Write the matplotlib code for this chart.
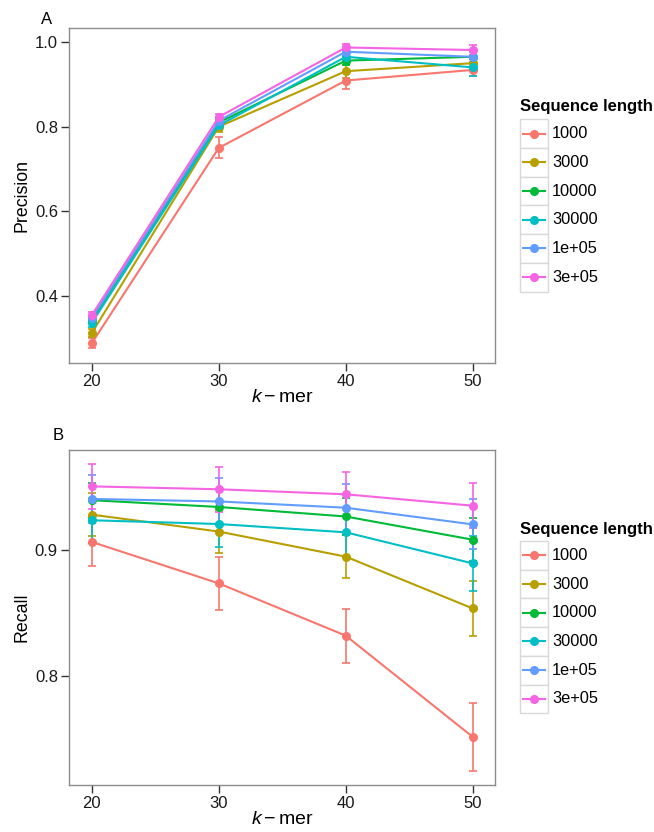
import matplotlib
matplotlib.use("Agg")
import matplotlib.pyplot as plt
from matplotlib.lines import Line2D
from matplotlib.patches import Rectangle

plt.rcParams['font.family'] = ['Liberation Sans', 'DejaVu Sans']
plt.rcParams['mathtext.fontset'] = 'custom'
plt.rcParams['mathtext.rm'] = 'Liberation Sans'
plt.rcParams['mathtext.it'] = 'Liberation Sans:italic'

kmer = [20, 30, 40, 50]
lengths = ["1000", "3000", "10000", "30000", "1e+05", "3e+05"]
colors = ["#F8766D", "#B79F00", "#00BA38", "#00BFC4", "#619CFF", "#F564E3"]

precision = {
    "1000":  [0.289, 0.750, 0.909, 0.934],
    "3000":  [0.313, 0.800, 0.931, 0.950],
    "10000": [0.344, 0.810, 0.956, 0.965],
    "30000": [0.337, 0.803, 0.965, 0.940],
    "1e+05": [0.348, 0.814, 0.977, 0.965],
    "3e+05": [0.355, 0.823, 0.987, 0.981],
}
precision_err = {
    "1000":  [0.012, 0.025, 0.020, 0.015],
    "3000":  [0.010, 0.012, 0.015, 0.015],
    "10000": [0.008, 0.010, 0.010, 0.015],
    "30000": [0.010, 0.010, 0.012, 0.020],
    "1e+05": [0.008, 0.010, 0.010, 0.012],
    "3e+05": [0.008, 0.008, 0.008, 0.012],
}
recall = {
    "1000":  [0.9067, 0.8737, 0.832, 0.7513],
    "3000":  [0.9285, 0.915, 0.895, 0.8537],
    "10000": [0.940, 0.9346, 0.927, 0.9085],
    "30000": [0.924, 0.921, 0.9144, 0.8896],
    "1e+05": [0.941, 0.939, 0.934, 0.9207],
    "3e+05": [0.951, 0.9487, 0.9447, 0.9356],
}
recall_err = {
    "1000":  [0.019, 0.021, 0.0215, 0.027],
    "3000":  [0.017, 0.017, 0.017, 0.022],
    "10000": [0.014, 0.014, 0.015, 0.017],
    "30000": [0.018, 0.018, 0.019, 0.022],
    "1e+05": [0.019, 0.019, 0.019, 0.020],
    "3e+05": [0.018, 0.018, 0.018, 0.018],
}

W, H = 654, 832
fig = plt.figure(figsize=(W / 100, H / 100), dpi=100)

def px_axes(left, top, right, bottom):
    return fig.add_axes([left / W, 1 - bottom / H, (right - left) / W, (bottom - top) / H])

ax1 = px_axes(69, 28, 495, 363)
ax2 = px_axes(69, 450, 495, 785)

def draw(ax, data, err, ylim, yticks, ylabel):
    for lab, col in zip(lengths, colors):
        ax.errorbar(kmer, data[lab], yerr=err[lab], color=col, lw=1.5,
                    marker='o', ms=5.5, capsize=2.6, capthick=1.2, elinewidth=1.2)
    ax.set_xlim(18.2, 51.75)
    ax.set_ylim(*ylim)
    ax.set_xticks(kmer)
    ax.set_yticks(yticks)
    ax.set_yticklabels([f"{t:.1f}" for t in yticks])
    for s in ax.spines.values():
        s.set_color('#8c8c8c')
        s.set_linewidth(1.0)
    ax.tick_params(direction='out', length=5.5, width=1, color='#333333',
                   labelsize=12, labelcolor='#1a1a1a', pad=2.5)
    ax.set_xlabel(r'$k - \mathrm{mer}$', fontsize=14, labelpad=0)
    ax.set_ylabel(ylabel, fontsize=12.8, labelpad=3)

draw(ax1, precision, precision_err, (0.242, 1.033), [0.4, 0.6, 0.8, 1.0], "Precision")
draw(ax2, recall, recall_err, (0.713, 0.980), [0.8, 0.9], "Recall")

fig.text(47 / W, 1 - 20 / H, "A", fontsize=12, ha='center', va='center')
fig.text(58 / W, 1 - 435 / H, "B", fontsize=12, ha='center', va='center')

def legend(title_y, key_top, row_h=28.7):
    fig.text(520 / W, 1 - title_y / H, "Sequence length", fontsize=12,
             fontweight='bold', ha='left', va='center')
    for i, (lab, col) in enumerate(zip(lengths, colors)):
        top = key_top + i * row_h
        fig.add_artist(Rectangle((520 / W, 1 - (top + row_h) / H), 28 / W, row_h / H,
                                 transform=fig.transFigure, facecolor='white',
                                 edgecolor='#d9d9d9', lw=1.0))
        cy = 1 - (top + row_h / 2) / H
        fig.add_artist(Line2D([523 / W, 545 / W], [cy, cy], transform=fig.transFigure,
                              color=col, lw=1.5))
        fig.add_artist(Line2D([534 / W], [cy], transform=fig.transFigure,
                              color=col, marker='o', ms=5.5, lw=0))
        fig.text(552 / W, cy, lab, fontsize=11.8, ha='left', va='center')

legend(107, 119.3)
legend(529.3, 541)

fig.savefig("out.png", dpi=100)
